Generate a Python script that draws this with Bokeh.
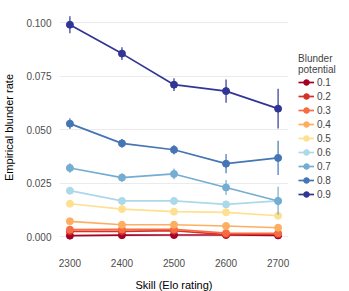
from bokeh.plotting import figure
from bokeh.models import Legend, LegendItem, FixedTicker, NumeralTickFormatter, Range1d
from bokeh.embed import file_html
from bokeh.resources import INLINE

skill = [2300, 2400, 2500, 2600, 2700]
potential_labels = ["0.1", "0.2", "0.3", "0.4", "0.5", "0.6", "0.7", "0.8", "0.9"]
colors = ["#a50026", "#d73027", "#f46d43", "#fdae61", "#fee090",
          "#abd9e9", "#74add1", "#4575b4", "#313695"]

rate_p1 = [0.0005, 0.0007, 0.0008, 0.0008, 0.0006]
rate_p2 = [0.0025, 0.0025, 0.0028, 0.0010, 0.0012]
rate_p3 = [0.0033, 0.0034, 0.0034, 0.0017, 0.0016]
rate_p4 = [0.0072, 0.0056, 0.0056, 0.0050, 0.0042]
rate_p5 = [0.0154, 0.0129, 0.0117, 0.0114, 0.0098]
rate_p6 = [0.0215, 0.0167, 0.0167, 0.0151, 0.0167]
rate_p7 = [0.0321, 0.0276, 0.0293, 0.0230, 0.0167]
rate_p8 = [0.0528, 0.0436, 0.0406, 0.0341, 0.0368]
rate_p9 = [0.0990, 0.0855, 0.0710, 0.0680, 0.0598]

err_p1 = [0.0002, 0.0002, 0.0002, 0.0002, 0.0003]
err_p2 = [0.0004, 0.0004, 0.0004, 0.0003, 0.0004]
err_p3 = [0.0005, 0.0005, 0.0005, 0.0004, 0.0005]
err_p4 = [0.0006, 0.0006, 0.0006, 0.0006, 0.0008]
err_p5 = [0.0009, 0.0009, 0.0009, 0.0010, 0.0014]
err_p6 = [0.0012, 0.0011, 0.0011, 0.0014, 0.0020]
err_p7 = [0.0022, 0.0020, 0.0025, 0.0035, 0.0066]
err_p8 = [0.0025, 0.0020, 0.0022, 0.0045, 0.0080]
err_p9 = [0.0040, 0.0030, 0.0030, 0.0054, 0.0093]

rates = [rate_p1, rate_p2, rate_p3, rate_p4, rate_p5, rate_p6, rate_p7, rate_p8, rate_p9]
errs = [err_p1, err_p2, err_p3, err_p4, err_p5, err_p6, err_p7, err_p8, err_p9]

FONT = "Liberation Sans"

p = figure(frame_width=229, frame_height=242, output_backend="svg", toolbar_location=None,
           x_range=Range1d(2280, 2720), y_range=Range1d(-0.0055, 0.1075),
           min_border_left=51, min_border_right=0, min_border_top=6, min_border_bottom=33)
p.outline_line_color = None
p.background_fill_color = "white"

items = []
for lab, col, r, e in zip(potential_labels, colors, rates, errs):
    lo = [v - d for v, d in zip(r, e)]
    hi = [v + d for v, d in zip(r, e)]
    seg = p.segment(x0=skill, y0=lo, x1=skill, y1=hi, line_color=col, line_width=1.2)
    ln = p.line(skill, r, line_color=col, line_width=1.7)
    sc = p.scatter(skill, r, size=7, fill_color=col, line_color=col)
    items.append(LegendItem(label=lab, renderers=[ln, sc]))

legend = Legend(items=items, title="Blunder\npotential", location=(10, 47),
                glyph_width=16, glyph_height=14, label_height=14, spacing=0,
                padding=0, margin=0, border_line_color=None,
                background_fill_alpha=0,
                label_text_font=FONT, label_text_font_size="10px",
                title_text_font=FONT, title_text_font_size="10px",
                title_text_font_style="normal", title_standoff=0,
                label_standoff=3)
p.add_layout(legend, "right")

p.xaxis.ticker = FixedTicker(ticks=skill)
p.yaxis.ticker = FixedTicker(ticks=[0.0, 0.025, 0.05, 0.075, 0.1])
p.yaxis.formatter = NumeralTickFormatter(format="0.000")
for ax in (p.xaxis, p.yaxis):
    ax.axis_line_color = None
    ax.major_tick_line_color = None
    ax.minor_tick_line_color = None
    ax.major_label_text_font = FONT
    ax.major_label_text_font_size = "10px"
    ax.major_label_text_color = "#4d4d4d"
    ax.axis_label_text_font = FONT
    ax.axis_label_text_font_size = "11px"
    ax.axis_label_text_font_style = "normal"
    ax.axis_label_text_color = "black"
p.xaxis.axis_label = "Skill (Elo rating)"
p.yaxis.axis_label = "Empirical blunder rate"
p.xaxis.major_label_standoff = 4
p.xaxis.axis_label_standoff = 9
p.yaxis.major_label_standoff = 2
p.yaxis.axis_label_standoff = 8

p.xgrid.grid_line_color = None
p.ygrid.grid_line_color = "#ebebeb"
p.ygrid.grid_line_width = 1

open("out.html", "w").write(file_html(p, INLINE))
